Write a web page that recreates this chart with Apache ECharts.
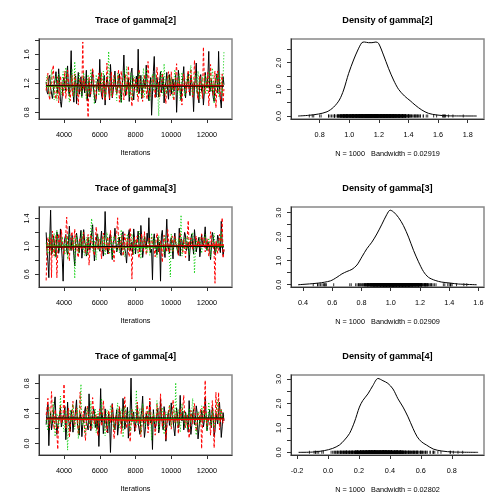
<!DOCTYPE html>
<html><head><meta charset="utf-8">
<script src="https://cdn.jsdelivr.net/npm/echarts@6/dist/echarts.min.js"></script>
<style>html,body{margin:0;padding:0;background:#fff}#c{width:504px;height:504px}</style>
</head><body><div id="c"></div>
<script>
// ---------- data ----------
const paramNames = ['gamma[2]', 'gamma[3]', 'gamma[4]'];
const bandwidths = ['0.02919', '0.02909', '0.02802'];
const sampleSize = 1000;
const iterStart = 3000, iterStep = 50, nIter = 200;
const iterations = [];
for (let i = 0; i < nIter; i++) iterations.push(iterStart + i * iterStep);

// gamma[2] chains
const g2_chain1 = [
1.22,1.08,1.05,1.27,1.31,1.14,1.12,0.99,0.98,1.19,1.25,1.36,1.18,1.06,1.40,1.21,0.95,0.87,1.02,1.24,
1.28,1.15,1.10,1.33,1.44,1.09,1.03,1.26,1.65,1.11,1.08,0.94,1.21,1.30,0.92,1.17,1.35,1.05,1.15,1.29,
1.02,1.19,1.30,1.07,1.17,1.38,0.96,1.13,1.24,1.01,1.08,1.27,1.38,1.12,1.13,0.93,0.99,1.22,1.26,1.10,
1.53,1.16,1.04,0.98,1.19,1.31,0.90,1.14,1.29,1.20,1.11,0.97,1.46,1.23,1.00,1.09,1.23,1.37,1.14,1.06,
1.07,1.25,1.33,1.12,0.94,1.18,1.28,1.59,1.16,1.03,1.02,1.21,1.27,0.95,1.12,1.34,1.41,1.10,0.97,1.17,
1.20,1.30,1.08,1.67,1.06,1.14,1.31,0.99,0.99,1.26,1.24,1.13,1.45,1.19,1.09,0.96,1.18,1.28,0.76,1.05,
1.36,1.57,1.13,1.01,1.28,1.19,1.01,1.24,1.36,1.07,1.15,1.29,0.93,1.14,1.22,1.35,1.10,0.98,1.32,1.20,
1.05,1.18,1.26,1.09,1.14,1.31,0.80,1.12,1.38,1.24,1.08,0.97,1.19,1.28,1.43,1.11,1.00,1.16,1.23,1.34,
1.12,1.03,1.30,1.21,1.16,0.81,1.17,1.27,1.48,1.10,1.04,0.93,1.25,1.32,1.09,1.18,0.90,1.07,1.35,1.22,
1.14,1.30,1.64,1.08,1.11,1.25,1.27,1.00,0.95,1.19,1.20,1.33,1.07,1.64,1.15,0.98,0.86,1.12,1.29,1.18];
const g2_chain2 = [
1.10,1.23,1.34,1.05,0.97,1.16,1.21,1.36,1.45,1.11,1.06,0.98,1.17,1.29,0.93,1.08,1.30,1.20,1.12,1.02,
1.25,1.37,0.99,1.14,1.38,1.22,1.08,0.96,1.19,1.31,1.02,1.15,1.33,1.24,1.14,1.05,0.90,1.18,1.27,1.09,
1.18,1.77,1.11,1.26,1.23,1.04,0.95,0.73,1.29,1.13,1.05,1.21,1.41,1.30,1.16,1.02,0.98,1.17,1.22,1.34,
1.08,1.19,1.35,1.00,1.13,1.25,0.96,1.07,1.48,1.23,1.10,0.99,1.20,1.36,1.01,1.12,1.31,1.18,1.15,1.06,
1.24,1.39,0.94,1.11,1.37,1.26,1.09,0.97,1.18,1.32,1.03,1.16,1.44,1.21,1.12,1.04,0.88,1.15,1.28,1.10,
1.14,1.27,1.06,0.95,1.39,1.24,1.21,1.08,0.95,1.12,1.32,1.19,1.10,0.98,1.50,1.27,1.02,1.13,1.19,1.30,
1.26,1.09,0.99,1.17,1.42,1.28,1.13,1.01,1.07,1.20,1.34,1.22,1.18,1.05,0.92,1.14,1.29,1.36,1.11,1.03,
1.36,1.18,1.04,0.96,1.21,1.31,1.47,1.12,1.09,1.25,1.16,1.02,0.90,1.19,1.33,1.27,1.13,1.07,1.25,1.38,
1.08,1.15,1.40,1.23,1.01,1.10,1.52,1.29,1.17,1.06,0.97,1.14,1.31,1.22,1.10,0.99,1.70,1.28,1.06,1.16,
1.23,1.35,0.89,1.07,1.46,1.20,1.14,1.03,1.28,1.37,0.86,1.11,1.37,1.24,1.05,0.98,1.20,1.33,0.94,1.12];
const g2_chain3 = [
1.15,1.31,1.28,1.10,1.02,1.22,1.39,1.17,1.09,0.97,1.20,1.30,0.96,1.12,1.33,1.25,1.13,1.04,1.24,1.36,
1.07,1.19,1.42,1.27,1.18,1.05,0.94,1.16,1.30,1.40,1.11,1.01,1.50,1.23,1.04,1.15,1.26,1.34,1.16,1.08,
0.99,1.21,1.35,1.17,1.12,0.98,1.23,1.32,1.05,1.14,1.40,1.26,1.19,1.07,0.91,1.13,1.32,1.22,1.14,1.03,
1.27,1.35,1.08,1.16,1.37,1.21,1.00,1.11,1.21,1.30,1.64,1.19,1.13,1.02,1.03,1.25,1.29,1.18,1.10,0.96,
1.34,1.23,1.16,1.07,0.93,1.18,1.25,1.38,1.06,1.13,1.43,1.27,1.12,1.01,1.22,1.34,0.97,1.15,1.31,1.24,
1.18,1.09,1.04,1.20,1.36,1.28,1.11,1.00,1.27,1.41,1.01,1.15,1.40,1.26,1.15,1.05,0.95,1.19,1.24,1.33,
1.09,1.22,1.33,1.14,1.20,1.07,0.75,1.17,1.30,1.38,1.13,1.03,1.47,1.24,1.05,1.16,1.22,1.31,1.17,1.09,
1.28,1.14,1.00,1.23,1.39,1.26,1.12,1.04,1.24,1.33,0.96,1.18,1.35,1.21,1.15,1.02,1.08,1.25,1.30,1.19,
1.19,1.36,1.45,1.12,1.03,1.17,1.26,1.34,1.11,1.06,1.37,1.23,0.98,1.16,1.21,1.29,1.14,1.05,1.32,1.25,
1.06,1.18,1.29,1.37,1.17,1.08,1.41,1.27,0.92,1.13,1.24,1.33,1.10,1.02,1.36,1.22,1.13,1.04,1.28,1.63];

// gamma[3] chains
const g3_chain1 = [
1.20,0.92,0.78,0.55,1.10,1.52,0.88,0.92,1.15,1.08,0.96,0.85,1.21,1.14,0.90,0.97,1.25,1.02,0.83,0.50,
1.03,1.12,1.17,0.94,0.88,1.08,1.29,0.99,0.94,1.16,1.06,0.87,0.72,1.04,1.19,1.10,0.99,0.91,1.11,1.23,
0.83,0.97,1.24,1.09,1.01,0.86,0.90,1.13,1.15,0.95,0.96,1.20,1.31,1.02,0.79,0.93,1.07,1.18,1.12,0.97,
0.93,1.08,1.22,0.95,0.86,1.02,1.50,1.11,1.04,0.89,0.95,1.14,1.18,0.99,0.81,1.05,1.09,1.26,1.27,0.92,
0.98,1.06,1.13,0.91,0.87,1.17,1.21,1.03,1.02,0.90,0.76,0.98,1.16,1.24,0.94,1.01,1.06,0.88,1.25,1.10,
0.89,1.04,1.10,1.22,0.99,0.92,1.30,1.12,0.84,0.95,1.14,1.05,0.97,1.19,1.07,1.41,1.00,0.91,0.96,0.52,
1.08,1.18,0.97,1.00,0.88,1.13,0.92,1.06,0.50,1.15,1.23,1.01,0.95,0.84,1.10,1.39,1.05,0.96,0.90,1.07,
1.12,0.99,0.82,1.08,1.19,1.04,1.01,0.93,0.88,1.26,0.86,1.11,1.08,0.97,0.97,1.20,1.15,0.94,0.99,1.06,
0.79,0.95,1.11,1.18,1.02,0.89,1.24,1.09,0.92,1.00,1.06,1.13,0.85,0.98,1.17,1.05,0.99,1.12,1.28,1.01,
0.94,1.07,1.09,0.96,0.81,0.99,1.20,1.14,1.03,0.88,0.89,1.02,1.16,1.10,0.98,0.91,1.36,1.04,0.87,0.95];
const g3_chain2 = [
0.51,0.98,1.13,1.05,0.93,1.12,0.55,1.22,1.01,0.86,1.05,1.16,0.55,0.90,1.18,1.08,0.97,1.24,1.09,0.93,
0.88,1.03,1.19,1.42,1.01,0.92,0.79,1.10,1.16,1.21,0.94,1.06,1.25,0.99,1.03,0.89,0.84,1.07,1.12,0.96,
0.99,1.13,1.20,0.95,0.90,1.02,1.08,1.17,0.73,0.94,1.17,1.09,1.00,0.91,0.87,1.04,1.28,1.15,0.96,1.06,
1.10,0.98,0.82,1.07,1.19,1.11,0.98,0.93,1.06,1.14,0.89,1.01,1.23,1.08,1.02,0.95,0.78,1.03,1.14,1.20,
1.41,1.09,0.95,0.99,1.09,1.16,0.86,0.94,1.18,1.07,1.01,1.12,0.92,0.85,1.27,1.10,0.53,0.97,1.05,1.13,
0.97,1.06,1.15,0.90,0.83,1.02,1.11,1.18,0.99,0.93,1.21,1.08,0.88,0.96,1.04,1.12,0.94,1.01,1.13,1.05,
1.02,0.94,0.85,1.09,1.19,1.13,0.96,0.90,1.08,1.00,0.77,0.99,1.16,1.07,1.00,0.92,1.24,1.11,0.91,1.03,
1.07,1.15,0.93,1.01,1.14,1.06,1.03,0.97,0.87,1.12,1.20,1.04,0.98,0.90,1.10,1.08,0.84,1.00,1.14,1.37,
1.01,1.09,1.12,1.03,0.95,1.07,1.06,1.11,1.15,1.04,1.09,1.02,1.02,1.08,1.18,1.10,1.04,1.13,0.92,1.00,
1.11,1.03,0.86,0.95,1.21,1.12,0.99,1.05,0.88,0.47,1.08,1.00,0.90,0.97,1.17,1.09,1.06,1.41,0.83,0.96];
const g3_chain3 = [
1.05,0.97,0.89,1.08,1.18,1.03,0.97,0.90,1.10,1.19,0.84,0.95,1.23,1.11,1.01,0.94,0.92,1.06,1.14,1.02,
0.99,0.88,1.07,1.15,0.81,0.96,1.19,1.09,0.95,1.00,1.04,1.12,0.54,0.98,1.16,1.05,0.90,0.93,1.09,1.01,
1.21,1.10,0.93,0.87,1.02,1.13,0.86,0.99,1.13,1.06,1.25,1.40,0.97,0.91,1.08,1.02,0.80,0.96,1.17,1.04,
0.94,1.03,1.11,0.95,1.00,1.16,0.87,0.97,1.20,1.08,0.96,0.89,1.06,1.13,0.83,1.01,1.15,1.07,0.99,0.93,
1.08,1.16,0.91,0.99,1.24,1.05,0.98,0.88,0.85,1.03,1.12,1.18,1.03,0.95,0.94,1.07,1.18,1.11,0.88,0.98,
1.10,1.02,0.96,0.89,1.22,1.14,0.82,0.97,1.05,1.10,1.14,1.04,0.93,0.90,1.01,1.09,0.87,0.96,1.19,1.08,
0.97,1.12,1.09,1.01,0.84,0.93,1.16,1.07,0.95,1.04,1.06,0.98,0.89,1.15,1.13,1.02,1.02,0.91,0.84,0.56,
1.18,1.05,0.92,1.00,1.04,1.11,0.99,0.94,1.11,1.03,1.10,1.45,0.86,0.97,1.07,1.12,0.95,1.00,1.15,1.06,
0.88,0.96,1.02,1.14,1.20,1.06,0.61,0.93,1.09,1.01,0.97,1.08,1.13,1.04,0.90,0.98,1.06,1.12,1.17,1.03,
0.94,1.07,1.12,0.99,0.85,0.96,1.03,1.10,1.19,1.02,0.91,0.95,1.08,1.01,0.98,1.13,1.21,1.04,1.01,0.97];

// gamma[4] chains
const g4_chain1 = [
0.25,0.41,0.52,-0.03,0.30,0.41,0.18,0.27,0.36,0.50,0.62,0.33,0.12,0.24,0.30,0.39,0.47,0.22,0.22,0.35,
0.38,0.49,0.05,0.21,0.55,0.31,0.27,0.16,0.44,0.37,0.15,0.28,0.33,0.45,0.58,0.26,0.20,0.11,0.40,0.34,
0.09,0.25,0.31,0.43,0.49,0.29,0.24,0.18,0.66,0.38,0.17,0.30,0.35,0.47,0.43,0.21,0.31,0.19,0.36,-0.04,
0.28,0.73,0.28,0.40,0.13,0.25,0.46,0.33,0.21,0.14,0.39,0.29,-0.12,0.27,0.53,0.39,0.26,0.18,0.34,0.45,
0.11,0.23,0.48,0.35,0.30,0.20,0.60,0.41,0.19,0.28,0.37,0.48,0.07,0.22,0.42,0.87,0.29,0.35,0.42,0.16,
0.16,0.33,0.51,0.27,0.25,0.12,0.35,0.44,0.63,0.31,0.08,0.19,0.40,0.34,0.23,0.37,0.56,0.27,0.31,-0.08,
0.45,0.30,0.20,0.26,0.38,0.47,0.14,0.22,0.59,0.36,0.27,0.18,0.49,0.40,0.03,0.25,0.36,0.44,0.24,0.31,
0.54,0.37,0.33,0.20,0.10,0.29,0.47,0.38,0.21,0.26,0.64,0.35,0.30,0.43,0.18,0.27,0.42,0.33,0.28,0.15,
0.57,0.36,0.12,0.24,0.39,0.46,0.25,0.31,0.50,0.41,0.06,0.19,0.34,0.28,0.44,0.37,0.22,0.30,0.61,0.39,
0.17,0.26,0.37,0.45,0.29,0.21,0.48,0.36,0.09,0.18,0.40,0.32,0.26,0.43,0.55,0.34,0.08,0.22,0.41,0.30];
const g4_chain2 = [
0.38,0.47,0.60,0.28,0.21,0.36,0.69,0.42,0.30,0.19,0.45,0.33,0.14,-0.08,0.31,0.40,0.52,0.26,0.27,0.38,
0.79,0.35,0.19,0.30,0.41,0.47,0.08,0.22,0.35,0.43,0.56,0.29,0.24,0.37,0.47,0.30,0.12,0.25,0.68,0.41,
0.29,0.36,0.43,0.18,0.04,0.27,0.50,0.39,0.33,0.22,0.18,0.34,0.61,0.45,0.26,0.32,0.39,0.20,0.10,0.31,
0.46,0.38,0.23,0.29,0.57,0.42,0.32,0.21,0.15,0.27,0.44,0.36,0.28,0.40,0.53,0.31,0.06,0.19,0.37,0.29,
0.25,0.33,0.49,0.41,0.13,0.24,0.40,0.35,0.62,0.44,0.20,0.29,0.34,0.26,0.02,0.23,0.45,0.38,0.30,0.21,
0.17,0.28,0.55,0.40,0.36,0.24,0.09,0.21,0.48,0.37,0.27,0.32,0.42,0.51,0.14,0.25,0.60,0.43,0.24,0.34,
0.39,0.30,0.11,0.23,0.52,0.41,0.31,0.27,0.66,0.45,0.22,0.34,0.43,0.29,0.05,0.20,0.35,0.42,0.50,0.36,
0.19,0.32,0.58,0.44,0.28,0.37,0.41,0.25,0.13,0.30,0.47,0.35,0.33,0.48,0.64,0.39,0.21,0.29,0.38,0.31,
0.07,0.22,0.44,0.36,0.26,0.40,0.53,0.34,0.16,0.28,0.40,0.31,0.30,0.46,-0.07,0.25,0.49,0.38,0.84,0.32,
0.23,0.35,0.36,0.27,0.11,0.33,0.57,0.41,-0.06,0.24,0.68,0.37,0.32,0.68,0.18,0.30,0.46,0.35,0.27,0.33];
const g4_chain3 = [
0.31,0.24,0.17,0.39,0.48,0.35,0.26,0.41,0.55,0.30,0.09,0.27,0.40,0.33,0.22,0.38,0.63,0.44,0.34,0.25,
0.15,0.32,0.44,0.28,-0.09,0.23,0.37,0.45,0.28,0.36,0.52,0.33,0.19,0.30,0.41,0.47,0.06,0.24,0.58,0.79,
0.24,0.31,0.35,0.19,0.12,0.38,0.47,0.41,0.30,0.25,0.56,0.37,0.20,0.29,0.38,0.46,0.14,0.26,0.43,0.35,
0.27,0.36,0.60,0.42,0.33,0.21,0.10,0.28,0.45,0.39,0.23,0.31,0.51,0.44,0.36,0.25,0.18,0.29,0.32,0.40,
0.54,0.38,0.21,0.30,0.42,0.47,0.08,0.22,0.49,0.36,0.29,0.35,0.37,0.44,0.16,0.27,0.46,0.39,0.26,0.33,
0.40,0.71,0.25,0.31,0.39,0.47,0.13,0.24,0.53,0.42,0.31,0.22,0.20,0.37,0.44,0.28,0.34,0.41,0.04,0.23,
0.40,0.33,0.27,0.36,0.57,0.45,0.18,0.26,0.36,0.43,0.48,0.30,0.12,0.25,0.42,0.38,0.29,0.35,0.51,0.40,
0.22,0.31,0.38,0.46,0.27,0.81,0.36,0.24,0.45,0.33,0.15,0.29,0.53,0.41,0.33,0.22,0.41,0.37,0.19,0.30,
0.47,0.36,0.28,0.44,0.60,0.39,0.35,0.23,0.11,0.27,0.43,0.38,0.24,0.31,0.50,0.45,0.37,0.29,0.30,0.41,
0.16,0.26,0.55,0.40,0.32,0.23,0.44,0.36,0.21,0.30,0.39,0.47,0.58,0.34,0.27,0.38,0.46,0.31,0.34,0.37];

// smoothed chain lines
const smoothIters = [3000, 5500, 8000, 10500, 12950];
const g2_smooth1 = [1.170,1.165,1.165,1.160,1.160];
const g2_smooth2 = [1.170,1.170,1.165,1.170,1.165];
const g2_smooth3 = [1.160,1.165,1.160,1.165,1.170];
const g3_smooth1 = [0.990,0.995,1.000,1.000,0.990];
const g3_smooth2 = [0.990,0.990,1.000,1.010,1.020];
const g3_smooth3 = [1.000,1.000,0.990,1.000,1.000];
const g4_smooth1 = [0.340,0.340,0.340,0.340,0.340];
const g4_smooth2 = [0.330,0.320,0.310,0.320,0.330];
const g4_smooth3 = [0.330,0.330,0.320,0.330,0.340];

// density curves
const g2_densX = [0.654,0.726,0.793,0.850,0.894,0.933,0.962,0.996,1.029,1.058,1.085,1.103,1.130,1.153,1.180,1.198,1.231,1.265,1.299,1.333,1.373,1.411,1.445,1.490,1.535,1.591,1.670,1.861];
const g2_densY = [0.000,0.025,0.075,0.160,0.330,0.600,0.975,1.600,2.100,2.475,2.750,2.775,2.750,2.750,2.775,2.725,2.290,1.790,1.350,1.000,0.750,0.575,0.410,0.225,0.100,0.038,0.005,0.000];
const g3_densX = [0.366,0.507,0.587,0.632,0.666,0.700,0.735,0.769,0.803,0.837,0.871,0.905,0.940,0.974,0.996,1.019,1.053,1.087,1.122,1.156,1.190,1.224,1.258,1.304,1.349,1.406,1.463,1.588];
const g3_densY = [0.000,0.070,0.160,0.310,0.450,0.550,0.640,0.820,1.160,1.500,1.770,2.110,2.520,2.930,3.100,3.030,2.800,2.460,1.980,1.430,0.955,0.550,0.310,0.180,0.110,0.070,0.030,0.000];
const g4_densX = [-0.190,-0.100,-0.024,0.030,0.074,0.106,0.139,0.171,0.203,0.225,0.258,0.290,0.323,0.355,0.387,0.420,0.452,0.485,0.517,0.550,0.576,0.604,0.636,0.680,0.734,0.810,0.970];
const g4_densY = [0.000,0.010,0.070,0.160,0.300,0.500,0.770,1.240,1.850,2.120,2.390,2.730,3.020,2.930,2.820,2.590,2.190,1.850,1.450,0.970,0.640,0.430,0.300,0.135,0.054,0.013,0.000];

// axis ticks and labels
const traceXTicks = [4000, 6000, 8000, 10000, 12000];
const g2_traceYTicks = [0.8,1.0,1.2,1.4,1.6,1.8], g2_traceYLabels = [0.8,1.2,1.6];
const g3_traceYTicks = [0.6,0.8,1.0,1.2,1.4],     g3_traceYLabels = [0.6,1.0,1.4];
const g4_traceYTicks = [0.0,0.2,0.4,0.6,0.8],     g4_traceYLabels = [0.0,0.4,0.8];
const g2_densXTicks = [0.8,1.0,1.2,1.4,1.6,1.8];
const g3_densXTicks = [0.4,0.6,0.8,1.0,1.2,1.4,1.6];
const g4_densXTicks = [-0.2,0.0,0.2,0.4,0.6,0.8];
const g2_densYTicks = [0,0.5,1,1.5,2,2.5],     g2_densYLabels = [0,1,2];
const g3_densYTicks = [0,0.5,1,1.5,2,2.5,3],   g3_densYLabels = [0,1,2,3];
const g4_densYTicks = [0,0.5,1,1.5,2,2.5,3],   g4_densYLabels = [0,1,2,3];

// ---------- layout / assembly ----------
const panels = [
  {chains:[g2_chain1,g2_chain2,g2_chain3], smooth:[g2_smooth1,g2_smooth2,g2_smooth3], dx:g2_densX, dy:g2_densY,
   tY:[0.708,1.811], tYT:g2_traceYTicks, tYL:g2_traceYLabels, dX:[0.6065,1.910], dY:[-0.1125,2.888],
   dXT:g2_densXTicks, dYT:g2_densYTicks, dYL:g2_densYLabels},
  {chains:[g3_chain1,g3_chain2,g3_chain3], smooth:[g3_smooth1,g3_smooth2,g3_smooth3], dx:g3_densX, dy:g3_densY,
   tY:[0.416,1.565], tYT:g3_traceYTicks, tYL:g3_traceYLabels, dX:[0.318,1.638], dY:[-0.094,3.233],
   dXT:g3_densXTicks, dYT:g3_densYTicks, dYL:g3_densYLabels},
  {chains:[g4_chain1,g4_chain2,g4_chain3], smooth:[g4_smooth1,g4_smooth2,g4_smooth3], dx:g4_densX, dy:g4_densY,
   tY:[-0.154,0.911], tYT:g4_traceYTicks, tYL:g4_traceYLabels, dX:[-0.239,1.008], dY:[-0.109,3.162],
   dXT:g4_densXTicks, dYT:g4_densYTicks, dYL:g4_densYLabels}
];
const FONT = '"Liberation Sans", Arial, Helvetica, sans-serif';
const chainColors = ['#000000', '#FF0000', '#00CD00'];
const chainDash = ['solid', [3, 2], [1, 2]];
const rowTops = [39, 207, 375];
const boxH = 80, traceLeft = 39, densLeft = 291, boxW = 193;

const grids = [], xAxes = [], yAxes = [], series = [], graphics = [];
function mkAxis(gi, min, max, ticks, labels, fmt, isY) {
  return {
    type: 'value', gridIndex: gi, min, max, scale: true,
    splitLine: {show: false},
    axisLine: {show: true, onZero: false, lineStyle: {color: '#333', width: 1}},
    axisTick: {show: true, inside: false, length: 4, customValues: ticks, lineStyle: {color: '#333', width: 1}},
    axisLabel: {show: true, customValues: labels, formatter: fmt, fontSize: 7.3, color: '#000',
      fontFamily: FONT, margin: isY ? 9 : 12, rotate: isY ? 90 : 0, hideOverlap: false}
  };
}
const f1 = v => Number(v).toFixed(1);
const f0 = v => String(Math.round(v));

panels.forEach((p, r) => {
  const top = rowTops[r];
  // trace grid
  const gT = grids.length;
  grids.push({left: traceLeft, top, width: boxW, height: boxH, show: true, borderColor: '#888', borderWidth: 1.5, backgroundColor: 'transparent', containLabel: false, outerBoundsMode: 'none'});
  xAxes.push(mkAxis(gT, 2600, 13400, traceXTicks, traceXTicks, f0, false));
  yAxes.push(mkAxis(gT, p.tY[0], p.tY[1], p.tYT, p.tYL, f1, true));
  p.chains.forEach((ch, c) => {
    series.push({type: 'line', xAxisIndex: gT, yAxisIndex: gT, showSymbol: false, symbol: 'none',
      data: iterations.map((it, i) => [it, ch[i]]), silent: true,
      lineStyle: {color: chainColors[c], width: 1, type: chainDash[c]}, z: 2 + c});
  });
  // smooth lines: green, red, then black on top
  [2, 1, 0].forEach((c, k) => {
    const sm = p.smooth[c];
    series.push({type: 'line', xAxisIndex: gT, yAxisIndex: gT, showSymbol: false, symbol: 'none',
      data: smoothIters.map((it, i) => [it, sm[i]]), smooth: true, silent: true,
      lineStyle: {color: chainColors[c], width: c === 0 ? 1 : 1.5}, z: 6 + k});
  });
  // density grid
  const gD = grids.length;
  grids.push({left: densLeft, top, width: boxW, height: boxH, show: true, borderColor: '#888', borderWidth: 1.5, backgroundColor: 'transparent', containLabel: false, outerBoundsMode: 'none'});
  xAxes.push(mkAxis(gD, p.dX[0], p.dX[1], p.dXT, p.dXT, f1, false));
  yAxes.push(mkAxis(gD, p.dY[0], p.dY[1], p.dYT, p.dYL, f1, true));
  series.push({type: 'line', xAxisIndex: gD, yAxisIndex: gD, showSymbol: false, symbol: 'none', smooth: 0.3,
    data: p.dx.map((x, i) => [x, p.dy[i]]), silent: true, lineStyle: {color: '#000', width: 1}, z: 3});
  const obs = [].concat(p.chains[0], p.chains[1], p.chains[2]);
  series.push({type: 'scatter', xAxisIndex: gD, yAxisIndex: gD, symbol: 'rect', symbolSize: [1, 3], silent: true,
    data: obs.map(v => [v, 0]), itemStyle: {color: '#000'}, z: 4});

  // titles and subtitles
  graphics.push({type: 'text', x: traceLeft + boxW / 2, y: top - 19,
    style: {text: 'Trace of ' + paramNames[r], font: 'bold 9.2px ' + FONT, fill: '#000', align: 'center', verticalAlign: 'middle'}});
  graphics.push({type: 'text', x: densLeft + boxW / 2, y: top - 19,
    style: {text: 'Density of ' + paramNames[r], font: 'bold 9.2px ' + FONT, fill: '#000', align: 'center', verticalAlign: 'middle'}});
  graphics.push({type: 'text', x: traceLeft + boxW / 2, y: top + boxH + 34,
    style: {text: 'Iterations', font: '7.3px ' + FONT, fill: '#000', align: 'center', verticalAlign: 'middle'}});
  graphics.push({type: 'text', x: densLeft + boxW / 2, y: top + boxH + 35,
    style: {text: 'N = ' + sampleSize + '   Bandwidth = ' + bandwidths[r], font: '7.3px ' + FONT, fill: '#000', align: 'center', verticalAlign: 'middle'}});
});

const chart = echarts.init(document.getElementById('c'), null, {renderer: 'canvas'});
chart.setOption({
  animation: false,
  backgroundColor: '#fff',
  grid: grids, xAxis: xAxes, yAxis: yAxes, series,
  graphic: {elements: graphics}
});
</script>
</body></html>
